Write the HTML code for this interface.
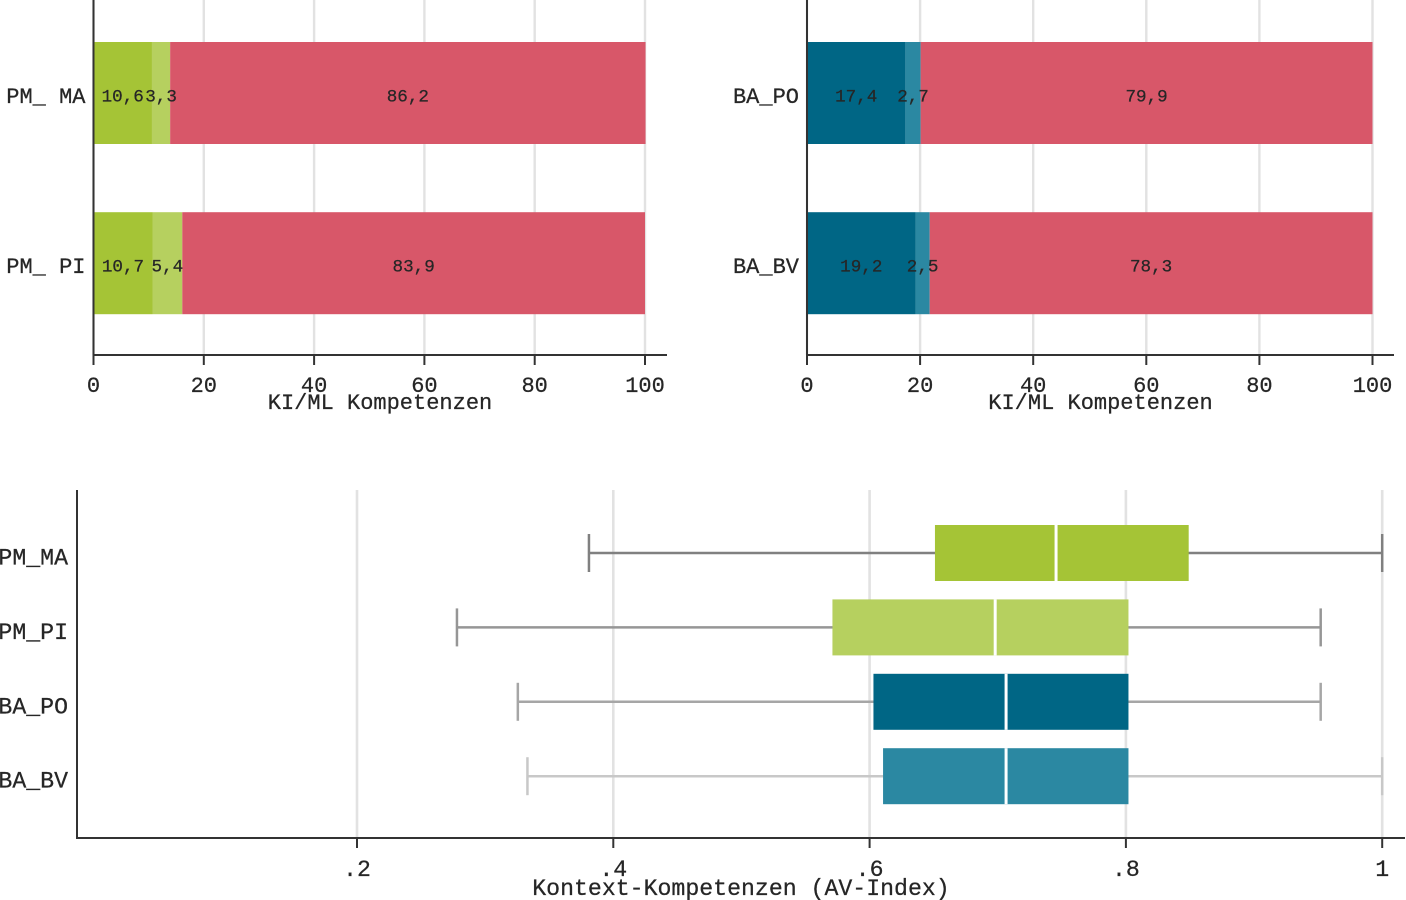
<!DOCTYPE html>
<html lang="de">
<head>
<meta charset="utf-8">
<title>KI/ML und Kontext-Kompetenzen</title>
<style>
html,body{margin:0;padding:0;background:#fff;}
svg{display:block;}
text{font-family:"Liberation Mono",monospace;fill:#262626;stroke:#262626;stroke-width:0.25px;white-space:pre;}
</style>
</head>
<body>
<svg id="chart" xmlns="http://www.w3.org/2000/svg" width="1406" height="900" viewBox="0 0 1406 900">
  <rect width="1406" height="900" fill="#ffffff"></rect>
</svg>
<script>
const pmCategories = ['PM_ MA', 'PM_ PI'];
const pmLow = [10.6, 10.7];
const pmMid = [3.3, 5.4];
const pmHigh = [86.2, 83.9];
const baCategories = ['BA_PO', 'BA_BV'];
const baLow = [17.4, 19.2];
const baMid = [2.7, 2.5];
const baHigh = [79.9, 78.3];
const barTickValues = [0, 20, 40, 60, 80, 100];
const barTickLabels = ['0', '20', '40', '60', '80', '100'];
const barAxisTitle = 'KI/ML Kompetenzen';

const boxCategories = ['PM_MA', 'PM_PI', 'BA_PO', 'BA_BV'];
const boxMin = [0.381, 0.278, 0.3255, 0.333];
const boxQ1 = [0.651, 0.571, 0.603, 0.6105];
const boxMedian = [0.7455, 0.698, 0.7065, 0.7065];
const boxQ3 = [0.849, 0.802, 0.802, 0.802];
const boxMax = [1, 0.952, 0.952, 1];
const boxTickValues = [0.2, 0.4, 0.6, 0.8, 1];
const boxTickLabels = ['.2', '.4', '.6', '.8', '1'];
const boxAxisTitle = 'Kontext-Kompetenzen (AV-Index)';

const svg = document.getElementById('chart');
const NS = 'http://www.w3.org/2000/svg';
const AXIS = '#333333';
const GRID = '#e2e2e2';

function make(tag, attrs, content) {
  const el = document.createElementNS(NS, tag);
  Object.keys(attrs).forEach(function (k) { el.setAttribute(k, attrs[k]); });
  if (content !== undefined) el.textContent = content;
  svg.appendChild(el);
  return el;
}
function line(x1, y1, x2, y2, stroke, width) {
  return make('line', { x1: x1, y1: y1, x2: x2, y2: y2, stroke: stroke, 'stroke-width': width });
}
function label(x, y, str, size, anchor) {
  return make('text', { x: x, y: y, 'font-size': size, 'text-anchor': anchor }, str);
}

function drawStacked(p, cats, low, mid, high, colors) {
  const x = function (v) { return p.x0 + v * p.unit; };
  const y = function (i) { return p.firstBarY + i * p.step; };

  barTickValues.forEach(function (v, i) {
    const g = line(x(v), 0, x(v), p.axisY, GRID, 2.4);
    
    
  });

  cats.forEach(function (c, i) {
    const segs = [low[i], mid[i], high[i]];
    let cum = 0;
    segs.forEach(function (v, j) {
      const r = make('rect', { x: x(cum), y: y(i), width: v * p.unit, height: p.barH, fill: colors[j] });
      
      
      cum += v;
    });
    cum = 0;
    segs.forEach(function (v, j) {
      const t = label(x(cum + v / 2), y(i) + p.barH / 2 + 8.5, v.toFixed(1).replace('.', ','), 17.6, 'middle');
      
      
      cum += v;
    });
    const cat = label(p.x0 - 8, y(i) + p.barH / 2 + 10, c, 22, 'end');
    
    
  });

  const ya = line(p.x0, 0, p.x0, p.axisY + 1, AXIS, 2);
  
  
  const xa = line(p.x0 - 1, p.axisY, p.axisEnd, p.axisY, AXIS, 2);
  
  

  barTickValues.forEach(function (v, i) {
    const tk = line(x(v), p.axisY, x(v), p.axisY + 10, AXIS, 2);
    
    
    const tl = label(x(v), p.axisY + 37, barTickLabels[i], 22, 'middle');
    
    
  });
  const title = label(p.titleX, p.axisY + 54, barAxisTitle, 22, 'middle');
  
  
}

function drawBoxes() {
  const x = function (v) { return 357 + (v - 0.2) * 1281.5; };
  const y = function (i) { return 553 + i * 74.4; };
  const fills = ['#a5c436', '#b6d05f', '#006685', '#2b88a2'];
  const whisk = ['#808080', '#969696', '#a6a6a6', '#c8c8c8'];
  const axisY = 838;
  const axisX = 77;

  boxTickValues.forEach(function (v) {
    const g = line(x(v), 490, x(v), axisY, GRID, 2.6);
    
    
  });

  boxCategories.forEach(function (c, i) {
    const w = line(x(boxMin[i]), y(i), x(boxMax[i]), y(i), whisk[i], 2.5);
    
    
    const c1 = line(x(boxMin[i]), y(i) - 19, x(boxMin[i]), y(i) + 19, whisk[i], 2.5);
    
    
    const c2 = line(x(boxMax[i]), y(i) - 19, x(boxMax[i]), y(i) + 19, whisk[i], 2.5);
    
    
    const r = make('rect', { x: x(boxQ1[i]), y: y(i) - 28, width: x(boxQ3[i]) - x(boxQ1[i]), height: 56, fill: fills[i] });
    
    
    const m = line(x(boxMedian[i]), y(i) - 28, x(boxMedian[i]), y(i) + 28, '#ffffff', 3);
    
    
    const t = label(68, y(i) + 11.5, c, 23.2, 'end');
    
    
  });

  const ya = line(axisX, 490, axisX, axisY + 1, AXIS, 2);
  
  
  const xa = line(axisX - 1, axisY, 1405, axisY, AXIS, 2);
  
  

  boxTickValues.forEach(function (v, i) {
    const tk = line(x(v), axisY, x(v), axisY + 10, AXIS, 2);
    
    
    const tl = label(x(v), axisY + 38, boxTickLabels[i], 23.2, 'middle');
    
    
  });
  const title = label(741, axisY + 57, boxAxisTitle, 23.2, 'middle');
  
  
}

drawStacked(
  { id: 'pm-chart', x0: 93.5, unit: 5.515, firstBarY: 42, step: 170.2, barH: 102, axisY: 355, axisEnd: 667, titleX: 380 },
  pmCategories, pmLow, pmMid, pmHigh, ['#a5c436', '#b6d05f', '#d85769']
);
drawStacked(
  { id: 'ba-chart', x0: 807, unit: 5.655, firstBarY: 42, step: 170.2, barH: 102, axisY: 355, axisEnd: 1394, titleX: 1100.5 },
  baCategories, baLow, baMid, baHigh, ['#006685', '#2b88a2', '#d85769']
);
drawBoxes();
</script>
</body>
</html>
